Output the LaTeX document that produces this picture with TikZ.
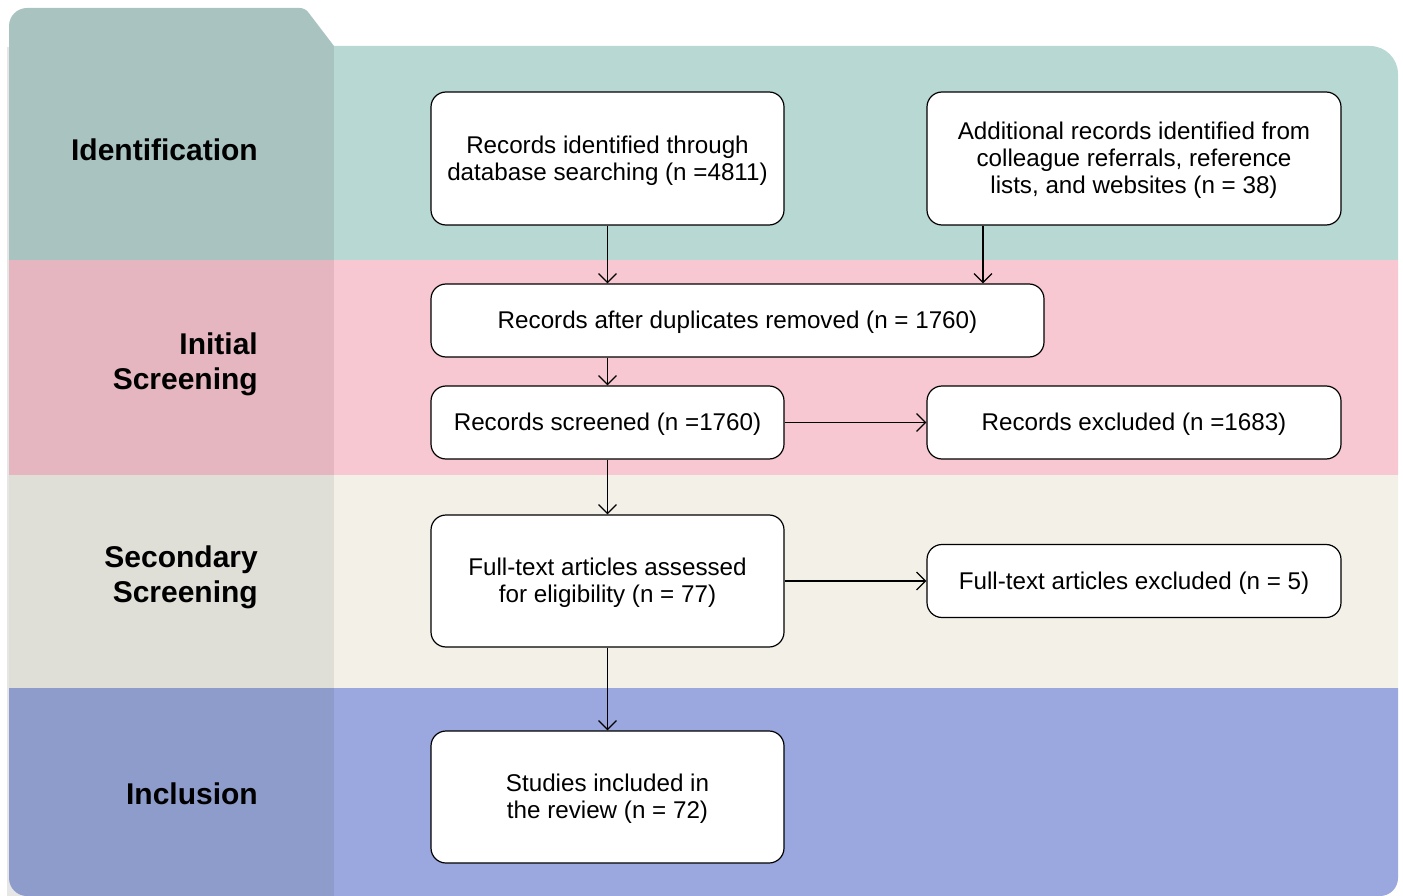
\documentclass[tikz,border=0pt]{standalone}
\usepackage{fontspec}
\setmainfont{Liberation Sans}
\usetikzlibrary{arrows.meta}
\definecolor{IdL}{HTML}{A9C4C0}
\definecolor{IdR}{HTML}{B8D8D3}
\definecolor{InL}{HTML}{E5B6C0}
\definecolor{InR}{HTML}{F8C8D2}
\definecolor{SeL}{HTML}{DFDFD7}
\definecolor{SeR}{HTML}{F3F0E8}
\definecolor{IcL}{HTML}{8E9CCC}
\definecolor{IcR}{HTML}{9AA8DF}
\definecolor{Edge}{HTML}{E6E6E6}

\begin{document}
\begin{tikzpicture}[x=1pt,y=-1pt,
    box/.style={draw=black,fill=white,line width=1.2pt,rounded corners=15pt,
        align=center,inner sep=0pt,text depth=1pt,font=\fontsize{24.2}{27}\selectfont},
    phase/.style={anchor=east,align=right,inner sep=0pt,font=\fontsize{30}{35}\selectfont\bfseries},
    arr/.style={line width=1.2pt,-{Straight Barb[length=9pt,width=18pt]}}]
                \useasboundingbox (0,0) rectangle (1403,896);
                \fill[Edge] (7,47) rectangle (60,896);

                \begin{scope}
                \clip (334,896) [rounded corners=18pt] -- (9,896) -- (9,8)
                    [rounded corners=5pt] -- (305,8) [sharp corners] -- (334,46) -- cycle;
                \fill[IdL] (0,0) rectangle (334,260);
                \fill[InL] (0,260) rectangle (334,475);
                \fill[SeL] (0,475) rectangle (334,688);
                \fill[IcL] (0,688) rectangle (334,900);
                \end{scope}

                \begin{scope}
                \clip (334,896) -- (334,46) [rounded corners=28pt] -- (1398,46)
                    [rounded corners=18pt] -- (1398,896) [sharp corners] -- cycle;
                \fill[IdR] (334,0) rectangle (1403,260);
                \fill[InR] (334,260) rectangle (1403,475);
                \fill[SeR] (334,475) rectangle (1403,688);
                \fill[IcR] (334,688) rectangle (1403,900);
                \end{scope}

                \node[phase] (ident) at (258,150) {Identification};
                \node[phase] (initial) at (258,364) {Initial\\Screening};
                \node[phase] (second) at (258,577) {Secondary\\Screening};
                \node[phase] (incl) at (258,794) {Inclusion};

                \node[box,minimum width=353pt,minimum height=133pt] (recdb) at (607.5,158.5)
                    {Records identified through\\database searching (n =4811)};
                \node[box,minimum width=414pt,minimum height=133pt] (recadd) at (1134,158.5)
                    {Additional records identified from\\colleague referrals, reference\\lists, and websites (n = 38)};
                \node[box,minimum width=613pt,minimum height=73pt] (dedup) at (737.5,320.5)
                    {Records after duplicates removed (n = 1760)};
                \node[box,minimum width=353pt,minimum height=73pt] (screened) at (607.5,422.5)
                    {Records screened (n =1760)};
                \node[box,minimum width=414pt,minimum height=73pt] (excluded) at (1134,422.5)
                    {Records excluded (n =1683)};
                \node[box,minimum width=353pt,minimum height=132pt] (fulltext) at (607.5,581)
                    {Full-text articles assessed\\for eligibility (n = 77)};
                \node[box,minimum width=414pt,minimum height=73pt] (ftexcl) at (1134,581)
                    {Full-text articles excluded (n = 5)};
                \node[box,minimum width=353pt,minimum height=132pt] (included) at (607.5,797)
                    {Studies included in\\the review (n = 72)};

                \coordinate (addx) at (983,0);
                \draw[arr] (recdb.south) -- (recdb.south |- dedup.north);
                \draw[arr] (recadd.south -| addx) -- (dedup.north -| addx);
                \draw[arr] (recdb.south |- dedup.south) -- (screened.north);
                \draw[arr] (screened.east) -- (excluded.west);
                \draw[arr] (screened.south) -- (fulltext.north);
                \draw[arr] (fulltext.east) -- (fulltext.east -| ftexcl.west);
                \draw[arr] (fulltext.south) -- (included.north);
            \end{tikzpicture}
\end{document}
